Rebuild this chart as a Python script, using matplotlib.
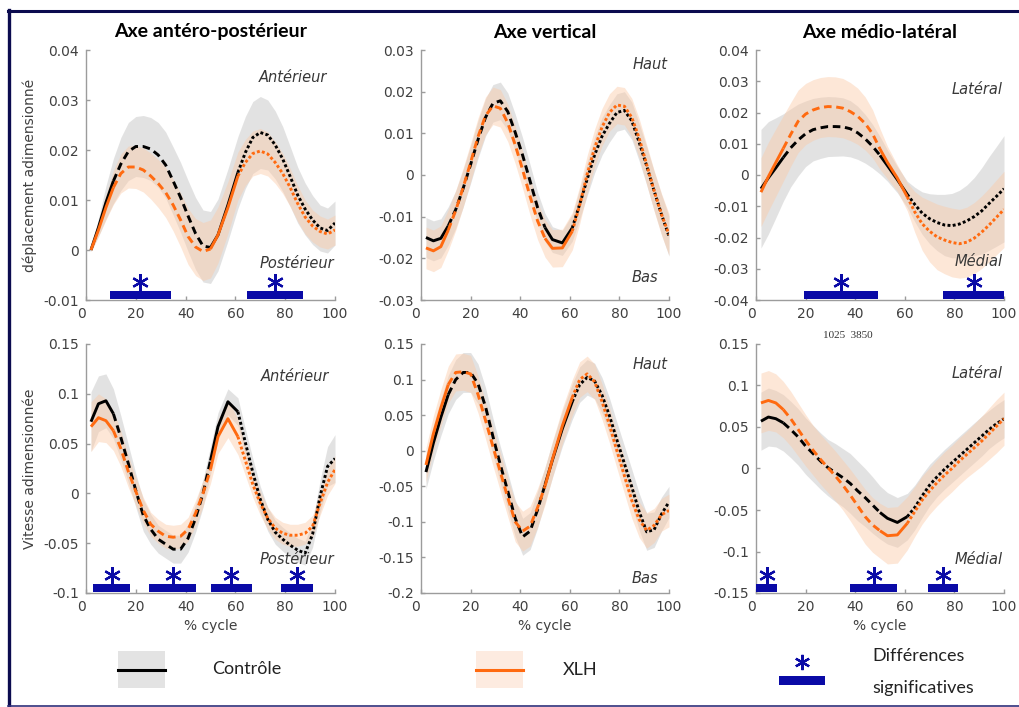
import numpy as np
import matplotlib.pyplot as plt
from matplotlib.patches import Rectangle
from matplotlib.transforms import ScaledTranslation

plt.rcParams['font.family'] = 'DejaVu Sans'

pct = [2, 5, 8, 11, 14, 17, 20, 23, 26, 29, 32, 35, 38, 41, 44, 47, 50,
       53, 57, 61, 64, 67, 70, 73, 76, 79, 82, 85, 88, 91, 94, 97, 100]
# phase limits (solid / dashed / solid / dotted)
phase_breaks = [11, 50, 61]

# ---------- displacement, antero-posterior ----------
ap_disp_ctl = [0.0, 0.0045, 0.0095, 0.0138, 0.0172, 0.0197, 0.0207, 0.0207, 0.0202, 0.019, 0.017,
               0.0138, 0.0105, 0.0068, 0.0033, 0.0008, 0.0005, 0.003, 0.009, 0.0155, 0.0195, 0.0225,
               0.0235, 0.023, 0.021, 0.0182, 0.0147, 0.011, 0.0082, 0.006, 0.0044, 0.0039, 0.0054]
ap_disp_ctl_sd = [0.0003, 0.0018, 0.0033, 0.0045, 0.0053, 0.0058, 0.006, 0.0062, 0.0063, 0.0065, 0.0066,
                  0.0068, 0.007, 0.0071, 0.0072, 0.0072, 0.0072, 0.0072, 0.0072, 0.0072, 0.0072, 0.0072,
                  0.0072, 0.007, 0.0068, 0.0065, 0.006, 0.0056, 0.0052, 0.0049, 0.0046, 0.0045, 0.0044]
ap_disp_xlh = [0.0, 0.004, 0.0085, 0.0125, 0.0153, 0.0166, 0.0166, 0.016, 0.0148, 0.0133, 0.0115,
               0.009, 0.006, 0.0027, 0.0006, -0.0003, 0.0002, 0.003, 0.0085, 0.0148, 0.0175, 0.0193,
               0.0198, 0.0192, 0.0175, 0.0153, 0.0125, 0.0093, 0.0066, 0.0048, 0.0037, 0.0032, 0.004]
ap_disp_xlh_sd = [0.0003, 0.0013, 0.0025, 0.0034, 0.0039, 0.0042, 0.0043, 0.0044, 0.0046, 0.0048, 0.005,
                  0.0052, 0.0054, 0.0056, 0.0057, 0.0058, 0.0058, 0.0056, 0.0052, 0.0048, 0.0046, 0.0045,
                  0.0045, 0.0044, 0.0042, 0.004, 0.0038, 0.0036, 0.0034, 0.0032, 0.0031, 0.003, 0.003]

# ---------- displacement, vertical ----------
v_disp_ctl = [-0.015, -0.0158, -0.0152, -0.0122, -0.0083, -0.0032, 0.0025, 0.0085, 0.0138, 0.0172, 0.0178,
              0.0152, 0.0102, 0.0047, -0.0015, -0.0078, -0.0126, -0.0155, -0.0163, -0.0127, -0.007, -0.001,
              0.0048, 0.0093, 0.0124, 0.015, 0.0155, 0.013, 0.0078, 0.0022, -0.0038, -0.0095, -0.0147]
v_disp_ctl_sd = [0.0048, 0.0048, 0.0047, 0.0046, 0.0045, 0.0045, 0.0045, 0.0045, 0.0045, 0.0045, 0.0045,
                 0.0045, 0.0044, 0.0042, 0.004, 0.0037, 0.0034, 0.0031, 0.003, 0.0032, 0.0036, 0.004,
                 0.0043, 0.0045, 0.0045, 0.0045, 0.0045, 0.0045, 0.0045, 0.0046, 0.0047, 0.0048, 0.0048]
v_disp_xlh = [-0.0175, -0.0182, -0.0172, -0.0132, -0.0085, -0.003, 0.003, 0.0092, 0.0142, 0.0166, 0.016,
              0.0125, 0.0072, 0.0012, -0.0052, -0.011, -0.0152, -0.0176, -0.0175, -0.0135, -0.0072, 0.0002,
              0.0065, 0.0115, 0.015, 0.0168, 0.0165, 0.0138, 0.0088, 0.0025, -0.0038, -0.0095, -0.0143]
v_disp_xlh_sd = [0.005, 0.005, 0.005, 0.0049, 0.0048, 0.0047, 0.0046, 0.0045, 0.0045, 0.0045, 0.0045,
                 0.0045, 0.0045, 0.0045, 0.0045, 0.0045, 0.0045, 0.0045, 0.0045, 0.0045, 0.0045, 0.0045,
                 0.0045, 0.0045, 0.0045, 0.0045, 0.0045, 0.0046, 0.0047, 0.0048, 0.0049, 0.005, 0.005]

# ---------- displacement, medio-lateral ----------
ml_disp_ctl = [-0.0044, -0.0009, 0.0023, 0.0056, 0.0087, 0.0112, 0.0132, 0.0145, 0.0151, 0.0155, 0.0155,
               0.0154, 0.0148, 0.0135, 0.0116, 0.0092, 0.0063, 0.003, -0.0015, -0.0062, -0.0094, -0.0122,
               -0.014, -0.0152, -0.016, -0.0162, -0.0157, -0.0147, -0.0133, -0.0115, -0.0091, -0.0068, -0.0044]
ml_disp_ctl_sd = [0.019, 0.018, 0.016, 0.014, 0.0125, 0.0115, 0.0105, 0.01, 0.0098, 0.0096, 0.0095,
                  0.0093, 0.009, 0.0085, 0.0078, 0.007, 0.006, 0.005, 0.0042, 0.0042, 0.0055, 0.0068,
                  0.008, 0.009, 0.0098, 0.0103, 0.0108, 0.0115, 0.0125, 0.0138, 0.015, 0.016, 0.017]
ml_disp_xlh = [-0.0055, -0.0005, 0.004, 0.0085, 0.013, 0.0172, 0.0195, 0.0208, 0.0216, 0.0219, 0.0218,
               0.0214, 0.0203, 0.0188, 0.0165, 0.0132, 0.0083, 0.004, -0.001, -0.007, -0.0118, -0.0156,
               -0.018, -0.0198, -0.0208, -0.0216, -0.022, -0.0215, -0.0202, -0.0183, -0.016, -0.0135, -0.011]
ml_disp_xlh_sd = [0.011, 0.011, 0.0108, 0.0105, 0.0102, 0.01, 0.0098, 0.0097, 0.0096, 0.0096, 0.0096,
                  0.0095, 0.0093, 0.009, 0.0085, 0.0077, 0.0065, 0.0052, 0.0042, 0.0045, 0.0065, 0.0085,
                  0.0098, 0.0105, 0.0108, 0.011, 0.011, 0.0112, 0.0114, 0.0116, 0.0118, 0.012, 0.0122]

# ---------- velocity, antero-posterior ----------
ap_vel_ctl = [0.072, 0.09, 0.093, 0.08, 0.056, 0.03, 0.003, -0.022, -0.036, -0.046, -0.051,
              -0.056, -0.056, -0.045, -0.025, 0.0, 0.033, 0.067, 0.092, 0.082, 0.051, 0.021,
              -0.006, -0.026, -0.039, -0.046, -0.052, -0.057, -0.06, -0.041, -0.003, 0.027, 0.035]
ap_vel_ctl_sd = [0.03, 0.028, 0.027, 0.025, 0.022, 0.019, 0.017, 0.016, 0.015, 0.014, 0.014,
                 0.014, 0.014, 0.014, 0.014, 0.014, 0.014, 0.014, 0.013, 0.014, 0.014, 0.014,
                 0.013, 0.012, 0.012, 0.012, 0.012, 0.012, 0.012, 0.013, 0.016, 0.02, 0.024]
ap_vel_xlh = [0.067, 0.076, 0.073, 0.063, 0.045, 0.022, 0.002, -0.017, -0.031, -0.038, -0.043,
              -0.044, -0.043, -0.036, -0.02, 0.0, 0.024, 0.057, 0.075, 0.057, 0.033, 0.009,
              -0.01, -0.025, -0.035, -0.04, -0.042, -0.042, -0.04, -0.033, -0.01, 0.011, 0.024]
ap_vel_xlh_sd = [0.025, 0.024, 0.022, 0.02, 0.018, 0.016, 0.014, 0.013, 0.012, 0.012, 0.012,
                 0.012, 0.012, 0.012, 0.013, 0.013, 0.014, 0.017, 0.019, 0.018, 0.015, 0.013,
                 0.012, 0.011, 0.011, 0.011, 0.011, 0.011, 0.011, 0.011, 0.012, 0.013, 0.014]

# ---------- velocity, vertical ----------
v_vel_ctl = [-0.03, 0.011, 0.047, 0.079, 0.1, 0.11, 0.11, 0.094, 0.062, 0.02, -0.02,
             -0.057, -0.095, -0.121, -0.113, -0.083, -0.048, -0.013, 0.031, 0.069, 0.093, 0.103,
             0.098, 0.078, 0.049, 0.015, -0.018, -0.051, -0.086, -0.114, -0.111, -0.089, -0.072]
v_vel_ctl_sd = [0.024, 0.025, 0.026, 0.027, 0.028, 0.028, 0.028, 0.028, 0.027, 0.026, 0.026,
                0.026, 0.026, 0.026, 0.026, 0.026, 0.025, 0.025, 0.025, 0.025, 0.025, 0.025,
                0.025, 0.025, 0.025, 0.025, 0.025, 0.025, 0.026, 0.026, 0.025, 0.024, 0.022]
v_vel_xlh = [-0.02, 0.024, 0.06, 0.093, 0.11, 0.111, 0.108, 0.079, 0.043, 0.006, -0.03,
             -0.066, -0.1, -0.113, -0.106, -0.08, -0.05, -0.012, 0.035, 0.075, 0.1, 0.108,
             0.097, 0.069, 0.036, 0.0, -0.035, -0.07, -0.097, -0.112, -0.105, -0.09, -0.084]
v_vel_xlh_sd = [0.024, 0.025, 0.026, 0.026, 0.026, 0.026, 0.026, 0.026, 0.026, 0.027, 0.027,
                0.027, 0.028, 0.028, 0.028, 0.027, 0.026, 0.025, 0.025, 0.025, 0.025, 0.025,
                0.025, 0.025, 0.025, 0.025, 0.025, 0.025, 0.025, 0.025, 0.024, 0.023, 0.023]

# ---------- velocity, medio-lateral ----------
ml_vel_ctl = [0.057, 0.062, 0.06, 0.055, 0.047, 0.038, 0.027, 0.018, 0.009, 0.001, -0.005,
              -0.011, -0.018, -0.027, -0.035, -0.044, -0.053, -0.06, -0.065, -0.058, -0.047, -0.033,
              -0.02, -0.01, -0.001, 0.007, 0.015, 0.023, 0.031, 0.039, 0.047, 0.054, 0.06]
ml_vel_ctl_sd = [0.035, 0.035, 0.034, 0.034, 0.034, 0.034, 0.034, 0.034, 0.034, 0.034, 0.035,
                 0.035, 0.036, 0.036, 0.035, 0.034, 0.032, 0.031, 0.03, 0.028, 0.027, 0.026,
                 0.025, 0.024, 0.024, 0.024, 0.024, 0.024, 0.024, 0.024, 0.023, 0.023, 0.023]
ml_vel_xlh = [0.079, 0.082, 0.079, 0.071, 0.06, 0.047, 0.034, 0.022, 0.011, 0.001, -0.009,
              -0.02, -0.032, -0.045, -0.058, -0.068, -0.075, -0.081, -0.08, -0.066, -0.052, -0.038,
              -0.027, -0.017, -0.008, 0.0, 0.009, 0.017, 0.025, 0.033, 0.042, 0.051, 0.06]
ml_vel_xlh_sd = [0.036, 0.036, 0.035, 0.034, 0.033, 0.032, 0.031, 0.03, 0.03, 0.03, 0.03,
                 0.03, 0.031, 0.032, 0.033, 0.033, 0.033, 0.034, 0.034, 0.032, 0.03, 0.029,
                 0.028, 0.028, 0.028, 0.028, 0.028, 0.028, 0.029, 0.03, 0.031, 0.032, 0.032]

# significant differences (start, end in % cycle)
ap_disp_sig = [(9.5, 34), (64.5, 87)]
v_disp_sig = []
ml_disp_sig = [(19.5, 49), (75.5, 100)]
ap_vel_sig = [(3, 17.5), (25.5, 44), (50, 66.5), (78.5, 91)]
v_vel_sig = []
ml_vel_sig = [(0, 8.5), (38, 57), (69.5, 81.5)]

# y ticks
disp_ap_ticks = [0.04, 0.03, 0.02, 0.01, 0, -0.01]
disp_v_ticks = [0.03, 0.02, 0.01, 0, -0.01, -0.02, -0.03]
disp_ml_ticks = [0.04, 0.03, 0.02, 0.01, 0, -0.01, -0.02, -0.03, -0.04]
vel_ap_ticks = [0.15, 0.1, 0.05, 0, -0.05, -0.1]
vel_v_ticks = [0.15, 0.1, 0.05, 0, -0.05, -0.1, -0.15, -0.2]
vel_ml_ticks = [0.15, 0.1, 0.05, 0, -0.05, -0.1, -0.15]
x_ticks = [0, 20, 40, 60, 80, 100]

titles = ["Axe antéro-postérieur", "Axe vertical", "Axe médio-latéral"]

BLACK = '#000000'
ORANGE = '#ff6a10'
GREY_FILL = '#d0d0d0'
ORANGE_FILL = '#fbcaa8'
BLUE = '#0a0aa6'
TXT = '#404040'
SPINE = '#9c9c9c'
W, H = 1019, 707

line_styles = ['-', (0, (2.6, 1.6)), '-', (0, (1, 0.8))]

fig = plt.figure(figsize=(W / 100, H / 100), dpi=100)


def px_rect(l, t, r, b):
    return [l / W, 1 - b / H, (r - l) / W, (b - t) / H]


def draw_mean(ax, y, color):
    idx = [0] + [pct.index(b) for b in phase_breaks] + [len(pct) - 1]
    for k in range(4):
        a, b = idx[k], idx[k + 1]
        ax.plot(pct[a:b + 1], y[a:b + 1], color=color, lw=2.1, ls=line_styles[k],
                solid_capstyle='butt', dash_capstyle='butt', solid_joinstyle='round')


def draw_panel(rect, ctl, ctl_sd, xlh, xlh_sd, ticks, sig, top_txt, bot_txt, txt_pos):
    ax = fig.add_axes(rect)
    x = np.array(pct)
    c, cs = np.array(ctl), np.array(ctl_sd)
    o, os_ = np.array(xlh), np.array(xlh_sd)
    ax.fill_between(x, c - cs, c + cs, color=GREY_FILL, alpha=0.6, lw=0)
    ax.fill_between(x, o - os_, o + os_, color=ORANGE_FILL, alpha=0.45, lw=0)
    draw_mean(ax, ctl, BLACK)
    draw_mean(ax, xlh, ORANGE)

    # significance bars + asterisks
    for s, e in sig:
        ax.axvspan(s, e, ymin=0.003, ymax=0.037, color=BLUE, lw=0, zorder=3)
        ax.plot((s + e) / 2, 0.073, marker=(6, 2, 0), ms=12, mew=1.6, color=BLUE,
                transform=ax.get_xaxis_transform(), clip_on=False, zorder=3)

    ax.set_xlim(0, 100)
    ax.set_ylim(min(ticks), max(ticks))
    ax.set_yticks(ticks)
    ax.set_yticklabels([f'{t:g}' for t in ticks])
    ax.set_xticks(x_ticks)
    ax.set_xticklabels([str(t) for t in x_ticks])
    for side in ['top', 'right']:
        ax.spines[side].set_visible(False)
    for side in ['left', 'bottom']:
        ax.spines[side].set_color(SPINE)
        ax.spines[side].set_linewidth(1)
    ax.tick_params(direction='in', length=3, width=1, color=SPINE, labelcolor=TXT,
                   labelsize=10, pad=5)
    lab0 = ax.get_xticklabels()[0]
    lab0.set_transform(lab0.get_transform() + ScaledTranslation(-0.05, 0, fig.dpi_scale_trans))

    (tx1, ty1), (tx2, ty2) = txt_pos
    ax.text(tx1, ty1, top_txt, transform=ax.transAxes, ha='right', va='center',
            fontstyle='italic', fontsize=10.5, color='#383838')
    ax.text(tx2, ty2, bot_txt, transform=ax.transAxes, ha='right', va='center',
            fontstyle='italic', fontsize=10.5, color='#383838')
    return ax


cols = [(86, 335), (421, 669), (756, 1004)]
rows = [(50, 300), (344, 593)]

ax1 = draw_panel(px_rect(cols[0][0], rows[0][0], cols[0][1], rows[0][1]),
                 ap_disp_ctl, ap_disp_ctl_sd, ap_disp_xlh, ap_disp_xlh_sd, disp_ap_ticks,
                 ap_disp_sig, 'Antérieur', 'Postérieur', [(0.97, 0.888), (0.997, 0.146)])
ax2 = draw_panel(px_rect(cols[1][0], rows[0][0], cols[1][1], rows[0][1]),
                 v_disp_ctl, v_disp_ctl_sd, v_disp_xlh, v_disp_xlh_sd, disp_v_ticks,
                 v_disp_sig, 'Haut', 'Bas', [(0.996, 0.943), (0.956, 0.088)])
ax3 = draw_panel(px_rect(cols[2][0], rows[0][0], cols[2][1], rows[0][1]),
                 ml_disp_ctl, ml_disp_ctl_sd, ml_disp_xlh, ml_disp_xlh_sd, disp_ml_ticks,
                 ml_disp_sig, 'Latéral', 'Médial', [(0.995, 0.844), (0.995, 0.153)])
ax4 = draw_panel(px_rect(cols[0][0], rows[1][0], cols[0][1], rows[1][1]),
                 ap_vel_ctl, ap_vel_ctl_sd, ap_vel_xlh, ap_vel_xlh_sd, vel_ap_ticks,
                 ap_vel_sig, 'Antérieur', 'Postérieur', [(0.976, 0.87), (0.997, 0.134)])
ax5 = draw_panel(px_rect(cols[1][0], rows[1][0], cols[1][1], rows[1][1]),
                 v_vel_ctl, v_vel_ctl_sd, v_vel_xlh, v_vel_xlh_sd, vel_v_ticks,
                 v_vel_sig, 'Haut', 'Bas', [(0.996, 0.919), (0.956, 0.058)])
ax6 = draw_panel(px_rect(cols[2][0], rows[1][0], cols[2][1], rows[1][1]),
                 ml_vel_ctl, ml_vel_ctl_sd, ml_vel_xlh, ml_vel_xlh_sd, vel_ml_ticks,
                 ml_vel_sig, 'Latéral', 'Médial', [(0.995, 0.883), (0.995, 0.134)])

for ax, t in zip([ax1, ax2, ax3], titles):
    ax.set_title(t, fontsize=14, fontweight='bold', family='Lato', pad=9)

ax1.set_ylabel('déplacement adimensionné', fontsize=10, color=TXT)
ax1.yaxis.set_label_coords(-0.195, 0.5)
ax4.set_ylabel('Vitesse adimensionnée', fontsize=10, color=TXT)
ax4.yaxis.set_label_coords(-0.195, 0.5)
for ax in [ax4, ax5, ax6]:
    ax.set_xlabel('% cycle', fontsize=10, color=TXT)
    ax.xaxis.set_label_coords(0.5, -0.105)

fig.text(848 / W, 1 - 335 / H, '1025  3850', family='Liberation Serif', fontsize=8,
         ha='center', va='center', color='#333333')

# legend + frame, drawn in pixel coordinates on an overlay axes
lg = fig.add_axes([0, 0, 1, 1])
lg.set_xlim(0, W)
lg.set_ylim(H, 0)
lg.axis('off')

leg_font = dict(family='Lato', fontsize=13, va='center', ha='left', color='#222222')
lg.add_patch(Rectangle((118, 651), 47, 37, color='#e3e3e3', lw=0))
lg.plot([118, 165], [670, 670], color=BLACK, lw=2.2)
lg.text(212, 669, 'Contrôle', **leg_font)

lg.add_patch(Rectangle((476, 651), 47, 37, color='#fdebe0', lw=0))
lg.plot([476, 523], [670, 670], color=ORANGE, lw=2.2)
lg.text(563, 670, 'XLH', **leg_font)

lg.add_patch(Rectangle((779, 676), 46, 9, color=BLUE, lw=0))
lg.plot(802, 662, marker=(6, 2, 0), ms=11, mew=1.6, color=BLUE)
lg.text(872, 656, 'Différences', **leg_font)
lg.text(872, 688, 'significatives', **leg_font)

lg.plot([8, W], [10.5, 10.5], color='#0b0b4f', lw=2.2, clip_on=False)
lg.plot([9.5, 9.5], [10, 706], color='#0b0b4f', lw=2.4, clip_on=False)
lg.plot([8, W], [705.5, 705.5], color='#30307a', lw=1.2, clip_on=False)

fig.savefig('out.png', dpi=100)
